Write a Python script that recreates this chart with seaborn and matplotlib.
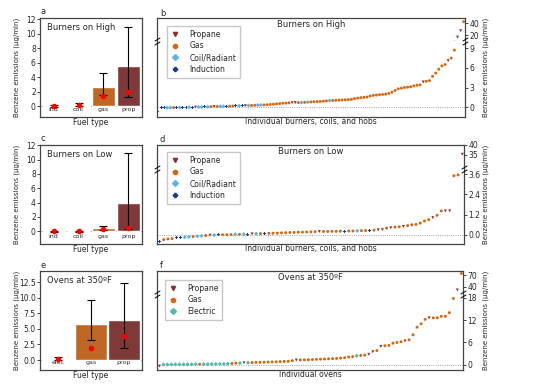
import numpy as np
import pandas as pd
import seaborn as sns
import matplotlib.pyplot as plt
from matplotlib.lines import Line2D

# ---------------------------------------------------- data ----------------------------------------------------
COLORS = {'Propane': '#8c2d2d', 'Gas': '#d9650b', 'Coil/Radiant': '#5ab4e8',
          'Induction': '#143c9c', 'Electric': '#4dbab0'}
MARKERS = {'Propane': 'v', 'Gas': 'o', 'Coil/Radiant': 'D', 'Induction': 'P', 'Electric': 'D'}
CODE = {'P': 'Propane', 'G': 'Gas', 'C': 'Coil/Radiant', 'I': 'Induction', 'E': 'Electric'}
BAR_COLORS = {'ind': '#143c9c', 'coil': '#5ab4e8', 'gas': '#d9650b', 'prop': '#8c2d2d', 'elec': '#4dbab0'}

# bar panels: mean, error bar low / high, red dot (median)
high_fuel = ['ind', 'coil', 'gas', 'prop']
high_mean = [0.02, 0.15, 2.7, 5.5]
high_lo = [-0.15, 0.0, 1.6, 1.2]
high_hi = [0.15, 0.42, 4.6, 11.0]
high_med = [0.0, 0.2, 1.4, 1.9]

low_fuel = ['ind', 'coil', 'gas', 'prop']
low_mean = [-0.05, -0.05, 0.45, 4.0]
low_lo = [-0.1, -0.1, 0.2, 0.25]
low_hi = [0.05, 0.0, 0.75, 11.0]
low_med = [0.0, -0.05, 0.25, 0.4]

oven_fuel = ['elec', 'gas', 'prop']
oven_mean = [0.1, 5.8, 6.5]
oven_lo = [0.0, 3.2, 2.0]
oven_hi = [0.5, 9.6, 12.3]
oven_med = [0.1, 1.9, 3.9]

# individual burners on high (one letter per burner, 10 per row)
high_codes = ('I I I C C G I C I I '
              'C I P C C I C G P G '
              'C C I G G I C I P C '
              'G G C C G G G G G G '
              'G G G P P G C G C G '
              'G G G G G C G G G G '
              'G G G G G G G G G G '
              'G G G G G G G G G G '
              'G G G G G P G G G G '
              'G G G P G G P P G').split()
high_vals = [-0.65, -0.12, -0.1, -0.08, -0.07, -0.06, -0.05, -0.04, -0.03, -0.02,
             -0.01, 0.0, 0.01, 0.02, 0.03, 0.05, 0.06, 0.08, 0.1, 0.1,
             0.12, 0.13, 0.15, 0.16, 0.17, 0.2, 0.21, 0.22, 0.24, 0.25,
             0.27, 0.29, 0.3, 0.32, 0.35, 0.38, 0.42, 0.45, 0.5, 0.55,
             0.6, 0.62, 0.65, 0.68, 0.7, 0.7, 0.72, 0.74, 0.76, 0.8,
             0.83, 0.85, 0.88, 0.92, 0.95, 1.0, 1.02, 1.05, 1.07, 1.1,
             1.12, 1.15, 1.2, 1.3, 1.38, 1.45, 1.5, 1.55, 1.7, 1.8,
             1.85, 1.9, 1.95, 2.0, 2.1, 2.3, 2.55, 2.8, 2.9, 3.0,
             3.05, 3.1, 3.25, 3.35, 3.4, 3.85, 3.95, 4.05, 4.7, 5.2,
             5.8, 6.3, 6.5, 7.1, 7.5, 8.7, 16.9, 27.8, 42.9]

# individual burners on low
low_codes = ('I G G G I I C C G C '
             'C G P C I G G G C G '
             'C I P C G I G G G G '
             'G G G G G G G G P G '
             'G G G G I G G C G G '
             'I G P P G P G G P G '
             'G G G G G P G G P P '
             'G G P').split()
low_vals = [-0.38, -0.28, -0.24, -0.22, -0.18, -0.16, -0.14, -0.12, -0.1, -0.08,
            -0.06, -0.04, -0.02, -0.01, 0.0, 0.01, 0.01, 0.02, 0.03, 0.03,
            0.04, 0.05, 0.06, 0.07, 0.08, 0.08, 0.09, 0.1, 0.1, 0.12,
            0.13, 0.14, 0.15, 0.16, 0.16, 0.17, 0.18, 0.19, 0.2, 0.2,
            0.2, 0.21, 0.21, 0.22, 0.22, 0.23, 0.23, 0.24, 0.25, 0.26,
            0.28, 0.28, 0.3, 0.31, 0.4, 0.42, 0.46, 0.48, 0.5, 0.55,
            0.6, 0.62, 0.7, 0.82, 0.9, 1.02, 1.16, 1.42, 1.42, 1.42,
            3.5, 3.55, 35.3]

# individual ovens
oven_codes = ('P E E E E E E E E E '
              'G E E E E E E E G G '
              'E P E G G G G G G G '
              'G G G G P G G G G G '
              'G G G G G G G G G E '
              'G G P P G P G G G G '
              'G P G G G G G P G G '
              'G G G G P G').split()
oven_vals = [-0.36, 0.1, 0.1, 0.1, 0.1, 0.12, 0.12, 0.13, 0.14, 0.15,
             0.16, 0.17, 0.18, 0.19, 0.2, 0.22, 0.24, 0.27, 0.35, 0.45,
             0.45, 0.52, 0.55, 0.6, 0.65, 0.68, 0.7, 0.73, 0.76, 0.8,
             0.85, 0.9, 0.95, 1.1, 1.27, 1.3, 1.32, 1.35, 1.4, 1.45,
             1.5, 1.55, 1.6, 1.65, 1.7, 1.8, 1.9, 2.1, 2.2, 2.4,
             2.5, 2.6, 2.8, 3.5, 3.8, 4.9, 5.1, 5.2, 5.8, 6.0,
             6.2, 6.4, 6.7, 8.05, 10.1, 11.0, 12.2, 12.6, 12.6, 12.6,
             13.0, 13.0, 14.0, 17.8, 31.4, 74.0]

# ---------------------------------------------------- style ----------------------------------------------------
sns.set_style('ticks')
plt.rcParams['font.family'] = ['DejaVu Sans']
plt.rcParams['axes.edgecolor'] = '#444444'
plt.rcParams['axes.linewidth'] = 0.9

W, H = 534, 386
fig = plt.figure(figsize=(W / 100, H / 100), dpi=100)


def px_rect(x0, y0, x1, y1):
    return [x0 / W, 1 - y1 / H, (x1 - x0) / W, (y1 - y0) / H]


def plot_bars(rect, fuel, mean, lo, hi, med, title, letter, ylim, yticks, yfmt='%g'):
    ax = fig.add_axes(px_rect(*rect))
    sns.barplot(x=fuel, y=mean, hue=fuel, palette=BAR_COLORS, legend=False,
                errorbar=None, ax=ax, zorder=2)
    # bars nearly touch in the original
    for p in ax.patches:
        c = p.get_x() + p.get_width() / 2
        p.set_width(0.95)
        p.set_x(c - 0.475)
    xs = np.arange(len(fuel))
    mean_a, lo_a, hi_a = np.array(mean), np.array(lo), np.array(hi)
    ax.errorbar(xs, mean_a, yerr=[mean_a - lo_a, hi_a - mean_a], fmt='none',
                ecolor='black', elinewidth=0.8, capsize=3, capthick=0.8, zorder=3)
    ax.plot(xs, med, 'o', color='red', ms=3, zorder=4)
    ax.axhline(0, color='#888888', lw=0.5, zorder=1)
    ax.set_xlim(-0.55, len(fuel) - 0.45)
    ax.set_ylim(*ylim)
    ax.set_yticks(yticks)
    ax.set_yticklabels([yfmt % t for t in yticks])
    ax.tick_params(axis='y', labelsize=5.5, length=2, width=0.6, pad=1)
    ax.tick_params(axis='x', length=0, labelsize=4.5, pad=-7)
    ax.set_xlabel('Fuel type', fontsize=5.5, labelpad=1)
    ax.set_ylabel('')
    ax.text(0.07, 0.95, title, transform=ax.transAxes, ha='left', va='top', fontsize=6)
    fig.text((rect[0] + 1) / W, 1 - (rect[1] - 6) / H, letter, fontsize=6, ha='left', va='center')
    fig.text(17 / W, 1 - (rect[1] + rect[3]) / 2 / H, 'Benzene emissions (µg/min)',
             rotation=90, fontsize=5, ha='center', va='center')
    return ax


def plot_split(rect, brk, codes, vals, title, letter, xlabel, lims_top, lims_bot,
               ticks_top, ticks_bot, fmt, legend_order, legend_pos, xpad):
    x0, y0, x1, y1 = rect
    ax_t = fig.add_axes(px_rect(x0, y0, x1, brk))
    ax_b = fig.add_axes(px_rect(x0, brk, x1, y1))
    df = pd.DataFrame({'idx': np.arange(len(vals)), 'val': vals,
                       'fuel': [CODE[c] for c in codes]})
    fuels = [f for f in legend_order if f in set(df['fuel'])]
    for ax in (ax_t, ax_b):
        sns.scatterplot(data=df, x='idx', y='val', hue='fuel', style='fuel',
                        hue_order=fuels, style_order=fuels,
                        palette={f: COLORS[f] for f in fuels},
                        markers={f: MARKERS[f] for f in fuels},
                        s=4.5, linewidth=0, legend=False, ax=ax, zorder=3)
        ax.set_xlim(-xpad, len(vals) - 0.6)
        ax.set_xticks([])
        ax.set_xlabel('')
        ax.set_ylabel('')
        ax.yaxis.tick_right()
        ax.tick_params(axis='y', labelsize=5.5, length=2, width=0.6, pad=1)
    ax_t.set_ylim(*lims_top)
    ax_b.set_ylim(*lims_bot)
    ax_t.set_yticks(ticks_top)
    ax_b.set_yticks(ticks_bot)
    ax_b.set_yticklabels([fmt % t for t in ticks_bot])
    ax_t.spines['bottom'].set_visible(False)
    ax_b.spines['top'].set_visible(False)
    ax_b.axhline(0, color='#888888', lw=0.6, ls=':', zorder=1)
    ax_b.set_xlabel(xlabel, fontsize=5.5, labelpad=0)

    # break marks on both spines
    mk = dict(marker=[(-1, -0.6), (1, 0.6)], markersize=4, linestyle='none',
              color='k', mec='k', mew=0.7, clip_on=False, zorder=5)
    off = 2.0 / (y1 - brk)
    for dy in (-off, off):
        ax_b.plot([0, 1], [1 + dy, 1 + dy], transform=ax_b.transAxes, **mk)

    ax_t.text(0.5, 0.9, title, transform=ax_t.transAxes, ha='center', va='top', fontsize=6)
    fig.text((x0 + 3) / W, 1 - (y0 - 5) / H, letter, fontsize=6, ha='left', va='center')
    fig.text(486 / W, 1 - (y0 + y1) / 2 / H, 'Benzene emissions (µg/min)',
             rotation=90, fontsize=5, ha='center', va='center')

    handles = [Line2D([], [], marker=MARKERS[f], color=COLORS[f], ls='none', ms=3)
               for f in fuels]
    fig.legend(handles, fuels, loc='upper left',
               bbox_to_anchor=(legend_pos[0] / W, 1 - legend_pos[1] / H),
               fontsize=5.5, frameon=True, fancybox=False, edgecolor='#bbbbbb',
               handlelength=1.2, handletextpad=1.2, labelspacing=0.35,
               borderpad=0.5, borderaxespad=0)
    return ax_t, ax_b


# ---------------------------------------------------- panels ----------------------------------------------------
plot_bars((40, 18, 142, 117), high_fuel, high_mean, high_lo, high_hi, high_med,
          'Burners on High', 'a', (-1.5, 12.2), [0, 2, 4, 6, 8, 10, 12])
plot_bars((40, 145, 142, 244), low_fuel, low_mean, low_lo, low_hi, low_med,
          'Burners on Low', 'c', (-1.8, 12.05), [0, 2, 4, 6, 8, 10, 12])
plot_bars((40, 271, 142, 370), oven_fuel, oven_mean, oven_lo, oven_hi, oven_med,
          'Ovens at 350ºF', 'e', (-1.6, 14.3), [0.0, 2.5, 5.0, 7.5, 10.0, 12.5], '%.1f')

burner_order = ['Propane', 'Gas', 'Coil/Radiant', 'Induction']
oven_order = ['Propane', 'Gas', 'Electric']

plot_split((157, 18, 465, 117), 41, high_codes, high_vals, 'Burners on High', 'b',
           'Individual burners, coils, and hobs', (10.5, 49), (-1.5, 10.1),
           [20, 40], [0, 3, 6, 9], '%g', burner_order, (167, 26), 0.3)
plot_split((157, 145, 464, 244), 169, low_codes, low_vals, 'Burners on Low', 'd',
           'Individual burners, coils, and hobs', (27.8, 40), (-0.54, 3.9),
           [35, 40], [0.0, 1.2, 2.4, 3.6], '%.1f', burner_order, (167, 152), 0.6)
plot_split((157, 271, 463, 370), 294, oven_codes, oven_vals, 'Ovens at 350ºF', 'f',
           'Individual ovens', (21.1, 80.3), (-1.4, 19),
           [40, 70], [0, 6, 12, 18], '%g', oven_order, (165, 280), 0.6)

fig.savefig('out.png', dpi=100)
